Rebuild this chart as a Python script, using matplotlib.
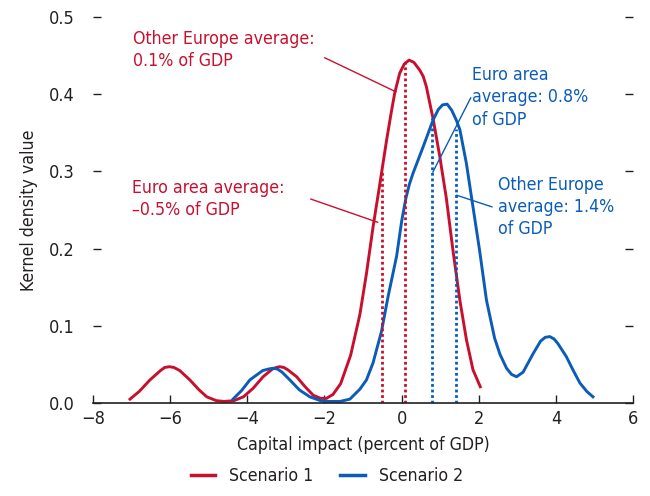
import matplotlib
matplotlib.use('Agg')
import matplotlib.pyplot as plt
from matplotlib.lines import Line2D

plt.rcParams['font.family'] = ['DejaVu Sans']
plt.rcParams['font.stretch'] = 'condensed'

# Data
s1_x = [-7.04, -6.8, -6.52, -6.25, -6.14, -6.02, -5.9, -5.75, -5.49, -5.25, -5.05, -4.8,
        -4.6, -4.35, -4.1, -3.85, -3.59, -3.35, -3.25, -3.16, -3.05, -2.95, -2.72, -2.5,
        -2.29, -2.1, -1.95, -1.78, -1.58, -1.32, -1.08, -0.91, -0.74, -0.56, -0.39, -0.28,
        -0.18, -0.05, 0.07, 0.195, 0.32, 0.47, 0.56, 0.64, 0.82, 0.99, 1.16, 1.33, 1.51,
        1.68, 1.85, 2.04]
s1_y = [0.005, 0.015, 0.030, 0.042, 0.046, 0.047, 0.046, 0.042, 0.030, 0.017, 0.008, 0.003,
        0.002, 0.003, 0.008, 0.019, 0.034, 0.044, 0.046, 0.047, 0.046, 0.043, 0.034, 0.021,
        0.010, 0.006, 0.006, 0.011, 0.025, 0.062, 0.115, 0.168, 0.228, 0.285, 0.340, 0.373,
        0.401, 0.427, 0.439, 0.444, 0.441, 0.431, 0.423, 0.410, 0.367, 0.319, 0.265, 0.198,
        0.133, 0.082, 0.043, 0.021]

s2_x = [-4.37, -4.15, -3.93, -3.6, -3.45, -3.33, -3.22, -3.1, -2.9, -2.65, -2.38, -2.1,
        -1.86, -1.6, -1.34, -1.08, -0.91, -0.74, -0.52, -0.35, -0.13, 0.0, 0.11, 0.2, 0.30,
        0.56, 0.82, 0.95, 1.06, 1.18, 1.3, 1.42, 1.51, 1.68, 1.81, 2.02, 2.2, 2.41, 2.55,
        2.72, 2.85, 2.98, 3.15, 3.28, 3.41, 3.6, 3.72, 3.84, 3.95, 4.05, 4.27, 4.45, 4.62,
        4.8, 4.96]
s2_y = [0.005, 0.016, 0.030, 0.042, 0.044, 0.045, 0.044, 0.040, 0.030, 0.017, 0.008, 0.003,
        0.002, 0.002, 0.005, 0.018, 0.030, 0.052, 0.093, 0.138, 0.190, 0.235, 0.265, 0.283,
        0.298, 0.332, 0.367, 0.380, 0.386, 0.387, 0.379, 0.366, 0.354, 0.310, 0.267, 0.198,
        0.133, 0.084, 0.063, 0.045, 0.037, 0.034, 0.040, 0.052, 0.064, 0.080, 0.085, 0.086,
        0.083, 0.077, 0.060, 0.042, 0.026, 0.015, 0.008]

# averages (x) and the curve height where the dotted line stops
s1_avg = [-0.5, 0.1]
s1_avg_top = [0.300, 0.443]
s2_avg = [0.8, 1.4]
s2_avg_top = [0.369, 0.355]

red = '#c8102e'
blue = '#0a5cb8'
ink = '#231f20'

fig = plt.figure(figsize=(6.5, 4.96), dpi=100)
ax = fig.add_axes([0.143, 0.1875, 0.831, 0.7785])

ax.plot(s1_x, s1_y, color=red, lw=2.1, solid_joinstyle='round')
ax.plot(s2_x, s2_y, color=blue, lw=2.1, solid_joinstyle='round')

for xv, top in zip(s1_avg, s1_avg_top):
    ax.plot([xv, xv], [0, top], color=red, lw=2, linestyle=(0, (1, 1)))
for xv, top in zip(s2_avg, s2_avg_top):
    ax.plot([xv, xv], [0, top], color=blue, lw=2, linestyle=(0, (1, 1)))

# annotations
fs = 12.7
ls = 1.3
ax.text(-6.97, 0.483, 'Other Europe average:\n0.1% of GDP', color=red, fontsize=fs,
        va='top', ha='left', linespacing=ls)
ax.plot([-1.99, -0.15], [0.447, 0.403], color=red, lw=1)

ax.text(-7.0, 0.290, 'Euro area average:\n\u20130.5% of GDP', color=red, fontsize=fs,
        va='top', ha='left', linespacing=ls)
ax.plot([-2.35, -0.62], [0.264, 0.234], color=red, lw=1)

ax.text(1.82, 0.436, 'Euro area\naverage: 0.8%\nof GDP', color=blue, fontsize=fs,
        va='top', ha='left', linespacing=ls)
ax.plot([1.79, 0.81], [0.395, 0.299], color=blue, lw=1)

ax.text(2.51, 0.294, 'Other Europe\naverage: 1.4%\nof GDP', color=blue, fontsize=fs,
        va='top', ha='left', linespacing=ls)
ax.plot([1.43, 2.34], [0.269, 0.254], color=blue, lw=1)

ax.set_xlim(-8, 6)
ax.set_ylim(0, 0.5)
ax.set_xticks(range(-8, 7, 2))
ax.set_yticks([0, 0.1, 0.2, 0.3, 0.4, 0.5])
ax.set_yticklabels(['0.0', '0.1', '0.2', '0.3', '0.4', '0.5'])

for side in ['top', 'left', 'right']:
    ax.spines[side].set_visible(False)
ax.spines['bottom'].set_color(ink)
ax.spines['bottom'].set_linewidth(1.2)

ax.tick_params(axis='x', direction='in', length=6, width=1, color=ink,
               labelsize=13, labelcolor=ink, pad=5)
ax.tick_params(axis='y', direction='in', length=6, width=1, color=ink,
               labelsize=13, labelcolor=ink, pad=13, right=True)

ax.set_xlabel('Capital impact (percent of GDP)', fontsize=fs, color=ink, labelpad=6)
ax.set_ylabel('Kernel density value', fontsize=fs, color=ink, labelpad=8)

handles = [Line2D([], [], color=red, lw=2.5), Line2D([], [], color=blue, lw=2.5)]
fig.legend(handles, ['Scenario 1', 'Scenario 2'], loc='lower center', ncol=2,
           frameon=False, fontsize=fs, bbox_to_anchor=(0.503, -0.01),
           handlelength=1.4, handletextpad=0.8, columnspacing=1.5, labelcolor=ink)

fig.savefig('out.png', dpi=100)
